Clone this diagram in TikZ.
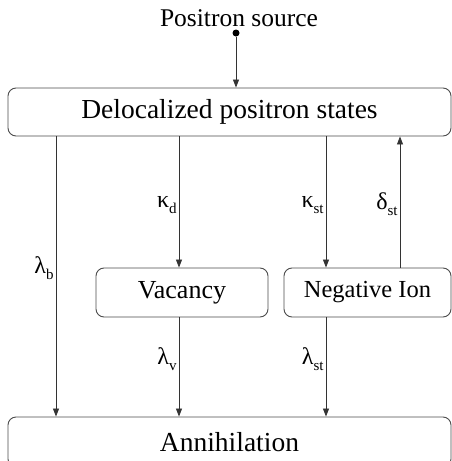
\documentclass[tikz,border=0pt]{standalone}
\usepackage{fontspec}
\setmainfont{Liberation Serif}
\usetikzlibrary{arrows.meta}

\newcommand{\rate}[2]{{\fontsize{24}{26}\selectfont #1}{\fontsize{15}{16}\selectfont\raisebox{-6pt}{#2}}}

\tikzset{
  stage/.style={draw=black!70, line width=0.9pt, rounded corners=8pt, fill=white,
    inner sep=0pt, font=\fontsize{25}{30}\selectfont},
  wide/.style={stage, font=\fontsize{27.5}{32}\selectfont},
  flow/.style={draw=black!80, line width=0.8pt, -{Triangle[length=8pt,width=6pt]}},
  ratelbl/.style={left, inner sep=2pt}
}

\begin{document}
\begin{tikzpicture}[x=1pt,y=-1pt]
\useasboundingbox (0,0) rectangle (452,461);
\clip (0,0) rectangle (452,461);
% columns of the arrows
\coordinate (cb) at (56,0);
\coordinate (cv) at (179,0);
\coordinate (cs) at (326,0);
\coordinate (cd) at (400,0);
\node[circle, fill=black, inner sep=0pt, minimum size=7pt] (src) at (236,33) {};
\node[font=\fontsize{25.5}{30}\selectfont, anchor=base, inner sep=0pt] (srclbl) at (239,26) {Positron source};
\node[wide, minimum width=443pt, minimum height=48pt] (deloc) at (229.5,112) {Delocalized positron states};
\node[stage, font=\fontsize{26}{30}\selectfont, minimum width=172pt, minimum height=49pt] (vac) at (182,292.5) {Vacancy};
\node[stage, font=\fontsize{24.5}{30}\selectfont, minimum width=167pt, minimum height=49pt] (ion) at (367.5,292.5) {Negative Ion};
\node[wide, minimum width=443pt, minimum height=50pt] (ann) at (229.5,442) {Annihilation};
\draw[flow] (src) -- (deloc.north -| src);
\draw[flow] (deloc.south -| cb) -- node[ratelbl, pos=0.47] (lb) {\rate{λ}{b}} (ann.north -| cb);
\draw[flow] (deloc.south -| cv) -- node[ratelbl, pos=0.52] (kd) {\rate{κ}{d}} (vac.north -| cv);
\draw[flow] (vac.south -| cv) -- node[ratelbl, pos=0.42] (lv) {\rate{λ}{v}} (ann.north -| cv);
\draw[flow] (deloc.south -| cs) -- node[ratelbl, pos=0.52] (ks) {\rate{κ}{st}} (ion.north -| cs);
\draw[flow] (ion.south -| cs) -- node[ratelbl, pos=0.42] (ls) {\rate{λ}{st}} (ann.north -| cs);
\draw[flow] (ion.north -| cd) -- node[ratelbl, pos=0.48] (ds) {\rate{δ}{st}} (deloc.south -| cd);
\end{tikzpicture}
\end{document}
